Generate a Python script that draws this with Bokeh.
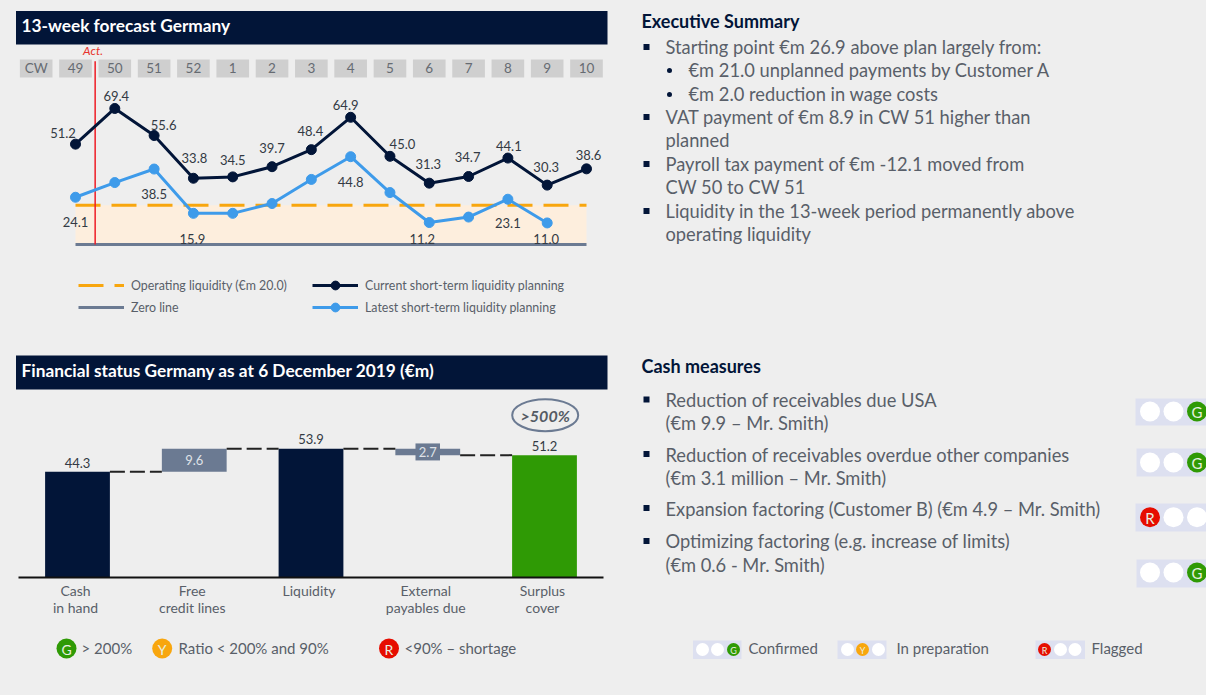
from bokeh.plotting import figure
from bokeh.embed import file_html
from bokeh.resources import INLINE
from bokeh.core.properties import value
from bokeh.models import (Range1d, Legend, LegendItem, GlobalInlineStyleSheet)

# ---------- data ----------
weeks = ["49", "50", "51", "52", "1", "2", "3", "4", "5", "6", "7", "8", "9", "10"]
current = [51.2, 69.4, 55.6, 33.8, 34.5, 39.7, 48.4, 64.9, 45.0, 31.3, 34.7, 44.1, 30.3, 38.6]
latest = [24.1, 31.6, 38.5, 15.9, 15.9, 20.9, 33.2, 44.8, 26.5, 11.2, 14.0, 23.1, 11.0]
latest_labelled = [0, 2, 3, 7, 9, 11, 12]
operating_liquidity = 20.0

wf_categories = ["Cash\nin hand", "Free\ncredit lines", "Liquidity", "External\npayables due", "Surplus\ncover"]
wf_values = [44.3, 9.6, 53.9, 2.7, 51.2]
wf_bottoms = [0, 44.3, 0, 51.2, 0]
wf_levels = [44.3, 53.9, 53.9, 51.2]

summary_lines = [
    (0, "Starting point €m 26.9 above plan largely from:"),
    (1, "€m 21.0 unplanned payments by Customer A"),
    (1, "€m 2.0 reduction in wage costs"),
    (0, "VAT payment of €m 8.9 in CW 51 higher than"),
    (2, "planned"),
    (0, "Payroll tax payment of €m -12.1 moved from"),
    (2, "CW 50 to CW 51"),
    (0, "Liquidity in the 13-week period permanently above"),
    (2, "operating liquidity"),
]
measures_lines = [
    "Reduction of receivables due USA", "(€m 9.9 – Mr. Smith)",
    "Reduction of receivables overdue other companies", "(€m 3.1 million – Mr. Smith)",
    "Expansion factoring (Customer B) (€m 4.9 – Mr. Smith)",
    "Optimizing factoring (e.g. increase of limits)", "(€m 0.6 - Mr. Smith)",
]
measure_status = ["G", "G", "R", "G"]

# ---------- style ----------
BG = "#eeeeee"; NAVY = "#021538"; BLUE = "#3e9bea"; ORANGE = "#f8a60e"; SLATE = "#6b7a92"
GREEN = "#2f9a05"; RED = "#e60d00"; GREY = "#595f69"; DARK = "#333a44"; LIGHT = "#dde0f0"; BOX = "#cfcfcf"
FONT = value("Lato")


def rng(v0, p0, v1, p1, pmin, pmax):
    """Range whose ends fall on the frame edges so that v0->p0 and v1->p1 (page pixels)."""
    k = (v1 - v0) / (p1 - p0)
    return Range1d(v0 + (pmin - p0) * k, v0 + (pmax - p0) * k)


PX0, PX1, PY0, PY1 = 0, 1206, 0, 695
p = figure(width=PX1 - PX0, height=PY1 - PY0, output_backend="svg", toolbar_location=None,
           x_range=Range1d(PX0, PX1), y_range=Range1d(PY1, PY0),
           x_axis_location=None, y_axis_location=None,
           background_fill_color=BG, border_fill_color=BG, outline_line_color=None,
           min_border=0, min_border_left=0, min_border_right=0, min_border_top=0, min_border_bottom=0)
p.grid.visible = False
p.stylesheets = [GlobalInlineStyleSheet(css="html,body{background:#eeeeee;}")]

# Line chart: week index -> page x, euros -> page y
p.extra_x_ranges["wk"] = rng(0, 75, 13, 586, PX0, PX1)
p.extra_y_ranges["wk"] = Range1d(*[(244 - py) / 1.96 for py in (PY1, PY0)])
# Waterfall: category index -> page x, euros -> page y
p.extra_x_ranges["wf"] = rng(0, 77, 4, 544, PX0, PX1)
p.extra_y_ranges["wf"] = Range1d(*[(577.3 - py) / 2.395 for py in (PY1, PY0)])


def label(x, y, text, size=13, color=GREY, align="left", style="normal", baseline="middle", **kw):
    p.text([x], [y], text=[text], text_font=FONT, text_font_size=f"{size}px", text_color=color,
           text_align=align, text_baseline=baseline, text_font_style=style, **kw)


# ---------- panel headers ----------
for top, bottom, title in [(10.5, 44, "13-week forecast Germany"),
                           (355, 389, "Financial status Germany as at 6 December 2019 (€m)")]:
    p.quad(left=[15.5], right=[607], top=[top], bottom=[bottom], fill_color=NAVY, line_color=None)
    label(21, (top + bottom) / 2 - 2.5, title, size=17.3, color="white", style="bold")

# ---------- line chart ----------
idx = list(range(len(weeks)))
wk = dict(x_range_name="wk", y_range_name="wk")
p.quad(left=[0], right=[13], bottom=[0], top=[operating_liquidity], fill_color="#fdeedd", line_color=None, **wk)
op_line = p.line([0, 13], [operating_liquidity] * 2, line_color=ORANGE, line_width=3, line_dash="25 11", **wk)
zero_line = p.line([0, 13], [0, 0], line_color=SLATE, line_width=3, **wk)

# calendar-week chips
chips = ["CW"] + weeks
p.rect(x=[i - 1 for i in range(len(chips))], y=[68] * len(chips), width=0.83, height=18, height_units="screen",
       fill_color=BOX, line_color=None, x_range_name="wk")
p.text(x=[i - 1 for i in range(len(chips))], y=[67.5] * len(chips), text=chips, text_font=FONT, text_font_size="13.5px",
       text_color="#666b72", text_align="center", text_baseline="middle", x_range_name="wk")

# actuals marker
p.line([0.5, 0.5], [0, 93.5], line_color="#ee1c25", line_width=1.5, **wk)
label(92.5, 50, "Act.", size=12, color="#e8342c", align="center", style="italic")

lat_l = p.line(idx[:len(latest)], latest, line_color=BLUE, line_width=3, **wk)
lat_c = p.scatter(idx[:len(latest)], latest, size=10, fill_color=BLUE, line_color=BLUE, **wk)
cur_l = p.line(idx, current, line_color=NAVY, line_width=3, **wk)
cur_c = p.scatter(idx, current, size=10, fill_color=NAVY, line_color=NAVY, **wk)

cur_dx = [-12.5, 1.5, 9.5, 1, 0, 0, -1, -5, 12.5, -1, -1, 1, -1, 2]
cur_dy = [-11, -12, -11, -20, -17, -19, -18.5, -12, -12, -19, -19, -12, -18, -14]
p.text(idx, current, text=[f"{v:.1f}" for v in current], x_offset=cur_dx, y_offset=cur_dy,
       text_font=FONT, text_font_size="13px", text_color=DARK, text_align="center", text_baseline="middle", **wk)
lat_dx = [0, 0, -1, 0, -7, 0, -1]
lat_dy = [25, 24.5, 26, 25, 16, 24, 16.5]
p.text(latest_labelled, [latest[i] for i in latest_labelled], text=[f"{latest[i]:.1f}" for i in latest_labelled],
       x_offset=lat_dx, y_offset=lat_dy,
       text_font=FONT, text_font_size="13px", text_color=DARK, text_align="center", text_baseline="middle", **wk)

legend = Legend(items=[
    LegendItem(label="Operating liquidity (€m 20.0)", renderers=[op_line]),
    LegendItem(label="Zero line", renderers=[zero_line]),
    LegendItem(label="Current short-term liquidity planning", renderers=[cur_l, cur_c]),
    LegendItem(label="Latest short-term liquidity planning", renderers=[lat_l, lat_c]),
], nrows=2, location=(78, 377), background_fill_alpha=0, border_line_color=None,
    glyph_width=46, glyph_height=22, label_height=22, label_width=181, label_standoff=7, spacing=0, padding=0, margin=0,
    label_text_font="Lato", label_text_font_size="12.4px", label_text_color=GREY)
p.add_layout(legend, "center")

# ---------- waterfall ----------
wf = dict(x_range_name="wf", y_range_name="wf")
wf_idx = list(range(len(wf_values)))
wf_tops = [b + v for b, v in zip(wf_bottoms, wf_values)]
wf_colors = [NAVY, SLATE, NAVY, SLATE, GREEN]
W = 0.555
p.vbar(x=wf_idx, top=wf_tops, bottom=wf_bottoms, width=W, fill_color=wf_colors, line_color=None, **wf)
p.rect(x=[3], y=[(wf_tops[3] + wf_bottoms[3]) / 2], width=0.21, height=17, height_units="screen",
       fill_color=SLATE, line_color=None, **wf)
p.segment(x0=[i + W / 2 for i in wf_idx[:-1]], x1=[i + 1 - W / 2 for i in wf_idx[:-1]], y0=wf_levels, y1=wf_levels,
          line_color="#222222", line_width=2, line_dash="15 5", **wf)
p.line([18, 603], [577, 577], line_color="#111111", line_width=2)

wf_dy = [-9, 0, -9.5, 0, -9.5]
wf_y = [wf_tops[0], (wf_tops[1] + wf_bottoms[1]) / 2, wf_tops[2], (wf_tops[3] + wf_bottoms[3]) / 2, wf_tops[4]]
wf_text_col = [DARK, "#dfe2e8", DARK, "#dfe2e8", DARK]
p.text(wf_idx, wf_y, text=[f"{v:.1f}" for v in wf_values], y_offset=wf_dy, text_font=FONT, text_font_size="13px",
       text_color=wf_text_col, text_align="center", text_baseline="middle", **wf)
p.text(wf_idx, [0] * 5, text=wf_categories, x_offset=[-2] * 5, y_offset=[4.5] * 5, text_font=FONT, text_font_size="14px",
       text_color=GREY, text_align="center", text_baseline="top", text_line_height=0.97, **wf)

p.ellipse([544.7], [414.7], width=66, height=32, fill_color=None, line_color=SLATE, line_width=2)
label(544.7, 414.7, ">500%", size=16, color="#555b64", align="center", style="bold italic")


def light(x, y, status, size=20, font=13):
    col = {"G": GREEN, "Y": ORANGE, "R": RED}.get(status)
    p.scatter([x], [y], size=size, fill_color=col or "white", line_color=None)
    if col:
        label(x, y + 0.5, status, size=font, color="#e8f0e0", align="center")


# threshold legend
for x, s in [(66, "G"), (161.7, "Y"), (388.5, "R")]:
    light(x, 648, s, size=20, font=14)
label(81, 647.5, "> 200%", size=15)
label(178, 647.5, "Ratio < 200% and 90%", size=15)
label(404, 647.5, "<90% – shortage", size=15)

# ---------- right column ----------
label(641, 20.5, "Executive Summary", size=18, color=NAVY, style="bold")
label(641, 365.5, "Cash measures", size=18, color=NAVY, style="bold")

summary_y = [46, 69, 93, 116, 139, 163, 186, 210, 233]
for (lvl, text), y in zip(summary_lines, summary_y):
    tx = 688 if lvl == 1 else 665
    label(tx, y, text, size=18.3)
    if lvl == 0:
        p.scatter([646], [y + 0.5], marker="square", size=6, fill_color=NAVY, line_color=None)
    elif lvl == 1:
        p.scatter([669], [y + 1], size=5, fill_color=NAVY, line_color=None)

measure_y = [399, 422, 454, 477, 508, 540, 564]
for text, y in zip(measures_lines, measure_y):
    label(665, y, text, size=18.3)
for y in [399, 453.5, 507.5, 540.5]:
    p.scatter([646], [y], marker="square", size=6, fill_color=NAVY, line_color=None)

rows = [(1135, 398, 425, 411), (1136, 448, 476, 462), (1135, 503, 531, 516.7), (1136, 559, 587, 572)]
pos = {"G": 2, "Y": 1, "R": 0}
for (bx, t, b, cy), s in zip(rows, measure_status):
    p.quad(left=[bx], right=[1206], top=[t], bottom=[b], fill_color=LIGHT, line_color=None)
    for k, cx in enumerate((1149.5, 1173, 1196.5)):
        light(cx, cy, s if k == pos[s] else None, size=20, font=15)

key = [(692.5, 741, (702, 717, 733), "G", 748, "Confirmed"),
       (837, 886, (847, 862, 878), "Y", 896, "In preparation"),
       (1035, 1084.5, (1044, 1060, 1074.5), "R", 1091, "Flagged")]
for l, r, xs, s, tx, text in key:
    p.quad(left=[l], right=[r], top=[640], bottom=[658.5], fill_color=LIGHT, line_color=None)
    for k, cx in enumerate(xs):
        light(cx, 649, s if k == pos[s] else None, size=13, font=9)
    label(tx, 647.5, text, size=15)

open("out.html", "w").write(file_html(p, INLINE))
